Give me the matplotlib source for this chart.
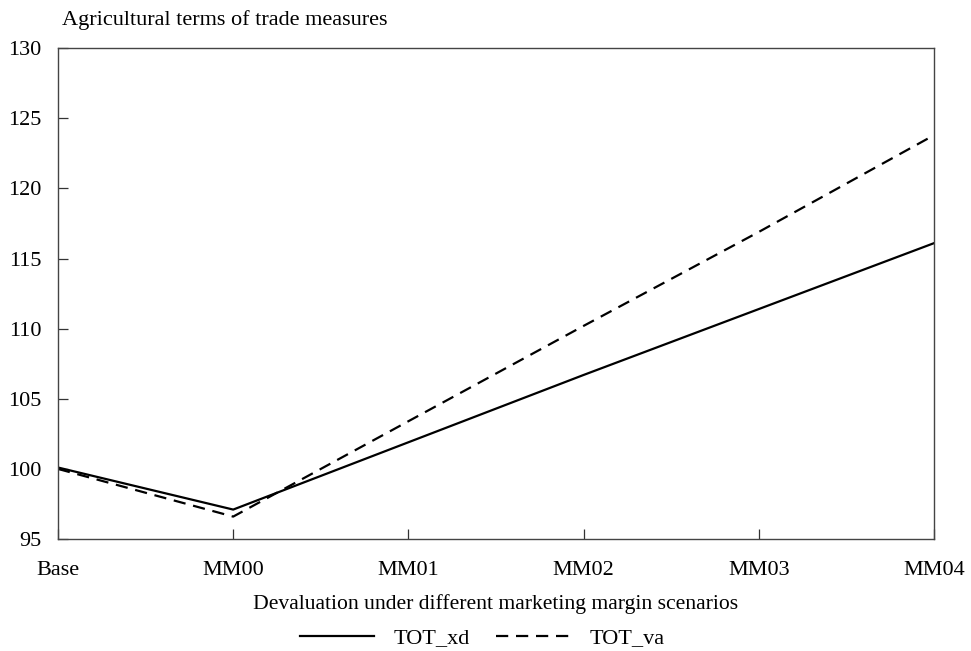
import numpy as np
import matplotlib.pyplot as plt
from matplotlib.lines import Line2D

plt.rcParams['font.family'] = ['Liberation Serif', 'DejaVu Serif']

scenarios = ['Base', 'MM00', 'MM01', 'MM02', 'MM03', 'MM04']
tot_xd = [100.1, 97.1, 101.9, 106.7, 111.4, 116.1]
tot_va = [100.0, 96.6, 103.4, 110.2, 116.9, 123.8]

fig = plt.figure(figsize=(9.71, 6.51), dpi=100)
ax = fig.add_axes([0.0597, 0.172, 0.9023, 0.754])

x = np.arange(len(scenarios))
dash = (0, (5.5, 3.5))
ax.plot(x, tot_xd, color='black', lw=1.6, label='TOT_xd')
ax.plot(x, tot_va, color='black', lw=1.6, ls=dash, label='TOT_va')

ax.set_xlim(0, len(scenarios) - 1)
ax.set_ylim(95, 130)
ax.set_yticks(np.arange(95, 131, 5))
ax.set_xticks(x)
ax.set_xticklabels(scenarios)
ax.tick_params(axis='both', direction='in', length=7, width=0.9, colors='#333333',
               labelcolor='black', labelsize=16)
ax.tick_params(axis='y', pad=12)
ax.tick_params(axis='x', pad=16)
for s in ax.spines.values():
    s.set_color('#444444')
    s.set_linewidth(1.0)

ax.set_xlabel('Devaluation under different marketing margin scenarios', fontsize=15.6, labelpad=10)
fig.text(62 / 971, 1 - 20 / 651, 'Agricultural terms of trade measures', fontsize=16,
         ha='left', va='center')

handles = [Line2D([], [], color='black', lw=1.6),
           Line2D([], [], color='black', lw=1.6, ls=dash)]
fig.legend(handles, ['TOT_xd', 'TOT_va'], loc='center', bbox_to_anchor=(0.497, 1 - 638 / 651),
           ncol=2, frameon=False, fontsize=16, handlelength=3.3, columnspacing=1.2,
           handletextpad=0.9)

fig.savefig('out.png', dpi=100)
